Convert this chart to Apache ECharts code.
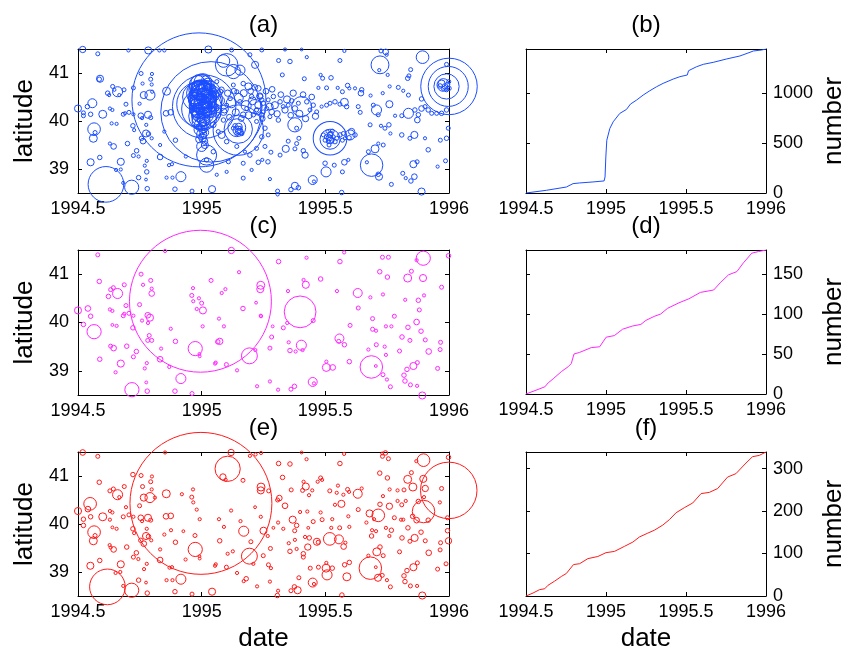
<!DOCTYPE html>
<html>
<head>
<meta charset="utf-8">
<script src="https://cdn.jsdelivr.net/npm/echarts@6/dist/echarts.min.js"></script>
<style>
html, body { margin: 0; padding: 0; background: #fff; }
#chart { width: 851px; height: 654px; }
</style>
</head>
<body>
<div id="chart"></div>
<script>
// tick positions
const dateTicks = [1994.5, 1995, 1995.5, 1996];
const latTicks = [39, 40, 41];
const countTicksB = [0, 500, 1000];
const countTicksD = [0, 50, 100, 150];
const countTicksF = [0, 100, 200, 300];

// events [date, latitude, magnitude] -- all events
const quakesA = [
    [1994.519, 41.49, 4.9], [1994.58, 41.40, 4.5], [1994.704, 41.47, 4.3], [1994.784, 41.47, 5.0],
    [1994.829, 41.47, 4.3], [1994.849, 41.47, 4.3], [1994.586, 40.87, 4.6], [1994.589, 40.88, 5.0],
    [1994.64, 40.72, 4.5], [1994.647, 40.65, 4.3], [1994.62, 40.58, 4.6], [1994.626, 40.54, 4.3],
    [1994.66, 40.61, 5.3], [1994.686, 40.65, 4.5], [1994.667, 40.54, 4.3], [1994.755, 40.99, 4.5],
    [1994.761, 40.78, 4.3], [1994.794, 40.87, 4.5], [1994.798, 40.76, 4.3], [1994.799, 40.98, 4.3],
    [1994.766, 40.54, 5.0], [1994.791, 40.54, 5.3], [1994.80, 40.61, 4.3], [1994.749, 40.36, 4.3],
    [1994.694, 40.35, 4.5], [1994.724, 40.69, 4.5], [1994.50, 40.26, 5.0], [1994.538, 40.30, 4.6],
    [1994.558, 40.37, 5.2], [1994.522, 40.17, 4.5], [1994.522, 40.11, 4.5], [1994.551, 40.14, 4.6],
    [1994.60, 40.14, 5.1], [1994.629, 40.26, 4.3], [1994.639, 40.23, 4.3], [1994.636, 39.95, 4.3],
    [1994.656, 39.94, 4.3], [1994.683, 40.14, 4.5], [1994.69, 40.16, 4.3], [1994.706, 40.18, 4.5],
    [1994.724, 40.14, 4.3], [1994.754, 40.11, 4.8], [1994.783, 40.13, 5.0], [1994.794, 40.07, 4.5],
    [1994.759, 40.06, 4.3], [1994.565, 39.83, 5.5], [1994.569, 39.76, 4.5], [1994.562, 39.64, 5.1],
    [1994.722, 39.90, 4.6], [1994.727, 39.81, 4.3], [1994.776, 39.92, 4.3], [1994.775, 39.74, 5.0],
    [1994.785, 39.73, 4.6], [1994.757, 39.64, 4.6], [1994.763, 39.58, 4.8], [1994.798, 39.64, 4.3],
    [1994.70, 39.53, 4.6], [1994.629, 39.53, 4.3], [1994.644, 39.47, 4.8], [1994.737, 39.38, 4.6],
    [1994.724, 39.28, 4.5], [1994.745, 39.26, 4.3], [1994.588, 39.24, 4.6], [1994.551, 39.14, 5.0],
    [1994.673, 39.15, 5.0], [1994.654, 38.98, 4.3], [1994.673, 38.99, 4.3], [1994.683, 38.71, 4.3],
    [1994.778, 39.17, 4.3], [1994.77, 39.07, 4.3], [1994.778, 38.94, 4.6], [1994.775, 38.78, 4.2],
    [1994.745, 38.82, 4.6], [1994.613, 38.68, 6.4], [1994.717, 38.62, 5.6], [1994.78, 38.59, 4.6],
    [1994.858, 40.62, 5.1], [1994.856, 40.16, 4.8], [1994.875, 40.18, 4.8], [1994.849, 39.78, 4.3],
    [1994.894, 39.60, 4.6], [1994.832, 39.50, 4.3], [1994.832, 39.25, 4.8], [1994.868, 39.08, 4.3],
    [1994.88, 39.10, 4.3], [1994.858, 38.82, 4.3], [1994.882, 38.82, 4.3], [1994.916, 38.84, 5.3],
    [1994.892, 38.58, 4.6], [1994.961, 38.54, 4.5], [1995.042, 38.58, 5.0], [1994.936, 39.26, 4.3],
    // main shock and its aftershock cluster
    [1994.989, 40.44, 7.55], [1995.038, 40.19, 7.3], [1995.01, 40.30, 6.9], [1994.99, 40.35, 6.6],
    [1995.0, 40.25, 6.5], [1995.02, 40.45, 6.3], [1994.98, 40.50, 6.2], [1995.005, 40.10, 6.2],
    [1995.03, 40.60, 6.0], [1994.995, 40.65, 5.9], [1994.985, 40.70, 5.5], [1995.0, 40.72, 5.4],
    [1995.01, 40.68, 5.6], [1994.99, 40.60, 5.7], [1995.005, 40.55, 5.5], [1994.975, 40.45, 5.6],
    [1995.015, 40.40, 5.4], [1994.995, 40.38, 5.8], [1995.0, 40.30, 5.7], [1995.02, 40.28, 5.3],
    [1994.985, 40.20, 5.5], [1995.01, 40.15, 5.4], [1994.995, 40.05, 5.2], [1995.005, 39.95, 5.0],
    [1994.99, 39.88, 4.8], [1995.01, 39.80, 4.7], [1995.0, 39.70, 4.6], [1995.02, 40.50, 5.2],
    [1994.97, 40.60, 5.0], [1995.03, 40.35, 5.0], [1995.04, 40.25, 4.8], [1994.965, 40.30, 4.9],
    [1994.97, 40.15, 4.7], [1995.025, 40.70, 4.9], [1995.045, 40.60, 4.7], [1994.98, 40.78, 4.8],
    [1995.01, 40.82, 4.6], [1995.05, 40.45, 4.6], [1995.06, 40.30, 4.7], [1995.0, 40.45, 5.3],
    [1994.99, 40.50, 5.0], [1995.015, 40.58, 5.1], [1995.005, 40.40, 4.9], [1994.995, 40.22, 5.0],
    [1995.0, 40.12, 4.8], [1995.012, 40.35, 5.5], [1994.988, 40.42, 5.2],
    [1994.985, 40.80, 5.6], [1995.005, 40.80, 5.8], [1995.025, 40.76, 5.5], [1994.995, 40.74, 6.0],
    [1995.015, 40.70, 5.6], [1994.980, 40.66, 5.7], [1995.000, 40.64, 5.9], [1995.030, 40.62, 5.6],
    [1994.990, 40.58, 6.1], [1995.015, 40.55, 5.7], [1994.975, 40.55, 5.4], [1995.035, 40.52, 5.5],
    [1994.998, 40.50, 6.1], [1995.020, 40.47, 5.9], [1994.980, 40.43, 5.7], [1995.004, 40.42, 6.1],
    [1995.030, 40.40, 5.6], [1994.988, 40.37, 5.8], [1995.012, 40.33, 6.0], [1994.975, 40.32, 5.5],
    [1995.025, 40.30, 5.8], [1994.996, 40.28, 6.0], [1995.010, 40.24, 5.7], [1994.982, 40.22, 5.6],
    [1995.028, 40.20, 5.5], [1995.000, 40.18, 5.9], [1994.988, 40.14, 5.6], [1995.015, 40.12, 5.7],
    [1994.996, 40.08, 5.8], [1995.008, 40.03, 5.5], [1994.990, 40.00, 5.6], [1995.012, 39.96, 5.4],
    [1994.996, 39.92, 5.5], [1995.006, 39.86, 5.3], [1994.992, 39.82, 5.4], [1995.010, 39.76, 5.2],
    [1995.000, 39.72, 5.3], [1995.004, 39.65, 5.1], [1994.990, 39.62, 5.0], [1995.012, 39.58, 4.9],
    [1995.040, 40.45, 5.3], [1995.045, 40.30, 5.2], [1995.045, 40.60, 5.1], [1994.970, 40.40, 5.3],
    [1994.968, 40.55, 5.2], [1994.975, 40.70, 5.1], [1995.035, 40.68, 5.3], [1995.040, 40.18, 5.3],
    [1994.970, 40.22, 5.2], [1995.016, 40.86, 5.1],
    [1995.101, 41.17, 6.0], [1995.128, 41.03, 5.6], [1995.088, 41.25, 5.5], [1995.155, 41.06, 5.3],
    [1995.216, 41.17, 5.0], [1995.027, 41.49, 5.0], [1995.121, 41.48, 4.5], [1995.243, 41.48, 4.5],
    [1995.195, 41.38, 4.5], [1995.189, 40.72, 5.0], [1995.229, 40.68, 4.8], [1995.168, 40.78, 4.6],
    [1995.142, 40.61, 4.5], [1995.115, 40.47, 4.6], [1995.101, 40.33, 4.5], [1995.074, 40.61, 4.8],
    [1995.061, 40.82, 4.5], [1995.128, 40.75, 4.5], [1995.155, 40.40, 4.6], [1995.182, 40.26, 4.5],
    [1995.202, 40.51, 4.6], [1995.216, 40.30, 5.6], [1995.243, 40.44, 4.6], [1995.249, 40.19, 4.5],
    [1995.209, 40.13, 4.6], [1995.088, 40.19, 5.0], [1995.061, 40.26, 4.6], [1995.168, 40.13, 4.8],
    [1995.222, 39.99, 4.5], [1995.088, 40.02, 4.6], [1995.047, 39.92, 4.8], [1995.067, 39.78, 4.5],
    [1995.055, 40.55, 5.0], [1995.065, 40.12, 4.8], [1995.072, 40.42, 5.3], [1995.08, 40.65, 4.8],
    [1995.092, 40.25, 5.1], [1995.105, 40.58, 4.9], [1995.112, 40.08, 4.8], [1995.12, 40.38, 5.3],
    [1995.13, 40.62, 4.8], [1995.138, 40.18, 5.0], [1995.15, 40.48, 5.2], [1995.16, 40.05, 4.8],
    [1995.17, 40.58, 5.0], [1995.18, 40.32, 5.3], [1995.19, 40.12, 5.0], [1995.198, 40.62, 4.8],
    [1995.205, 40.42, 5.1], [1995.215, 40.70, 4.8], [1995.225, 40.20, 5.0], [1995.235, 40.52, 4.9],
    [1995.148, 39.81, 6.7], [1995.148, 39.83, 6.2], [1995.142, 39.86, 5.8], [1995.135, 39.90, 4.6],
    [1995.148, 39.79, 4.8], [1995.155, 39.85, 4.5], [1995.142, 39.74, 4.5], [1995.162, 39.74, 4.6],
    [1995.128, 39.85, 4.5], [1995.150, 39.88, 5.0], [1995.145, 39.80, 5.2], [1995.155, 39.78, 4.9],
    [1995.02, 39.29, 5.9], [1995.02, 39.08, 5.6], [1995.0, 39.47, 5.3], [1995.013, 39.50, 5.0],
    [1995.02, 39.19, 4.6], [1995.047, 39.36, 4.6], [1995.101, 39.57, 4.6], [1995.081, 39.71, 5.0],
    [1995.195, 39.29, 4.6], [1995.222, 39.43, 4.5], [1995.168, 39.12, 4.5], [1995.202, 38.98, 4.3],
    [1995.101, 38.94, 4.3], [1995.061, 38.88, 4.3], [1995.108, 39.15, 4.5], [1995.168, 38.81, 4.5],
    [1995.142, 39.47, 4.5], [1995.175, 39.36, 4.3],
    // 1995.25 .. 1996
    [1995.337, 41.49, 4.3], [1995.404, 41.49, 4.2], [1995.311, 41.26, 4.5], [1995.357, 41.24, 4.6],
    [1995.425, 41.33, 4.3], [1995.326, 40.96, 4.5], [1995.415, 40.88, 4.5], [1995.481, 40.96, 4.3],
    [1995.489, 40.89, 4.5], [1995.523, 40.90, 4.6], [1995.559, 41.26, 4.5], [1995.577, 41.46, 4.3],
    [1995.472, 40.69, 4.3], [1995.505, 40.69, 4.5], [1995.55, 40.69, 4.3], [1995.569, 40.61, 4.5],
    [1995.59, 40.74, 4.6], [1995.597, 40.68, 4.3], [1995.62, 40.68, 4.3], [1995.647, 40.65, 4.6],
    [1995.644, 40.58, 4.8], [1995.683, 40.53, 4.3], [1995.732, 40.58, 4.3], [1995.76, 40.72, 4.3],
    [1995.795, 40.70, 4.5], [1995.815, 40.63, 4.3], [1995.845, 41.07, 4.5], [1995.838, 40.94, 4.5],
    [1995.833, 40.89, 4.6], [1995.836, 40.54, 4.5], [1995.889, 40.46, 4.6], [1995.725, 41.46, 4.5],
    [1995.744, 41.44, 4.8], [1995.748, 41.38, 4.3], [1995.721, 41.17, 5.8], [1995.718, 41.06, 4.3],
    [1995.752, 40.96, 4.3], [1995.893, 41.33, 5.5], [1995.99, 41.18, 4.5], [1995.633, 40.30, 4.5],
    [1995.641, 40.18, 4.5], [1995.694, 40.33, 4.5], [1995.707, 40.23, 5.3], [1995.714, 40.13, 4.5],
    [1995.759, 40.35, 5.0], [1995.782, 40.11, 4.3], [1995.809, 40.11, 4.5], [1995.836, 40.16, 5.3],
    [1995.862, 40.23, 4.6], [1995.876, 40.13, 4.6], [1995.889, 40.26, 4.8], [1995.903, 40.30, 4.5],
    [1995.916, 40.23, 4.6], [1995.93, 40.16, 4.5], [1995.95, 40.16, 4.5], [1995.97, 40.16, 4.6],
    [1995.99, 40.23, 4.6], [1995.872, 40.02, 4.8], [1995.681, 39.92, 4.5], [1995.725, 39.90, 4.3],
    [1995.757, 39.92, 4.6], [1995.741, 39.85, 4.5], [1995.763, 39.74, 4.3], [1995.809, 39.71, 4.6],
    [1995.842, 39.64, 4.5], [1995.86, 39.71, 5.0], [1995.903, 39.64, 4.3], [1995.965, 39.60, 4.5],
    [1995.99, 39.64, 4.6], [1995.997, 39.85, 4.5], [1995.62, 39.71, 4.6], [1995.60, 39.71, 5.3],
    [1995.569, 39.60, 4.5], [1995.596, 39.65, 4.6], [1995.606, 39.78, 4.9], [1995.701, 39.42, 5.1],
    [1995.674, 39.36, 4.5], [1995.714, 39.53, 4.3], [1995.734, 39.50, 4.5], [1995.668, 39.14, 4.3],
    [1995.687, 39.08, 6.0], [1995.714, 38.89, 4.6], [1995.717, 38.84, 5.0], [1995.767, 38.68, 4.5],
    [1995.813, 38.91, 4.5], [1995.825, 38.81, 4.3], [1995.846, 38.75, 4.6], [1995.86, 38.84, 4.8],
    [1995.871, 39.15, 4.5], [1995.916, 39.40, 4.6], [1995.889, 38.53, 5.0], [1995.954, 39.05, 4.3],
    [1995.986, 39.17, 4.5], [1995.34, 39.42, 5.0], [1995.377, 39.42, 4.5], [1995.411, 39.38, 4.6],
    [1995.418, 39.29, 4.9], [1995.393, 39.64, 4.5], [1995.384, 39.53, 4.5], [1995.35, 39.58, 4.5],
    [1995.499, 39.12, 4.6], [1995.503, 38.94, 5.3], [1995.536, 39.08, 4.5], [1995.577, 39.14, 4.8],
    [1995.593, 39.19, 4.3], [1995.276, 38.79, 4.3], [1995.307, 38.54, 4.5], [1995.307, 38.47, 4.3],
    [1995.361, 38.57, 4.6], [1995.377, 38.65, 5.0], [1995.391, 38.61, 4.6], [1995.449, 38.77, 5.2],
    [1995.454, 38.74, 4.3], [1995.566, 38.51, 4.6], [1995.569, 38.94, 4.5], [1995.268, 39.15, 4.6],
    [1995.245, 39.19, 4.3], [1995.256, 39.47, 4.5], [1995.243, 39.67, 4.6], [1995.229, 39.14, 4.6],
    [1995.28, 39.35, 4.5], [1995.317, 39.29, 4.5], [1995.856, 39.10, 5.0],
    [1995.229, 40.33, 5.0], [1995.249, 40.37, 4.6], [1995.269, 40.44, 4.5], [1995.29, 40.51, 4.6],
    [1995.296, 40.33, 5.0], [1995.317, 40.40, 4.6], [1995.33, 40.30, 4.5], [1995.337, 40.23, 4.9],
    [1995.35, 40.33, 4.5], [1995.364, 40.42, 4.6], [1995.377, 40.26, 4.8], [1995.391, 40.37, 4.5],
    [1995.404, 40.30, 5.9], [1995.425, 40.40, 4.6], [1995.438, 40.23, 4.5], [1995.451, 40.33, 4.6],
    [1995.465, 40.19, 4.5], [1995.485, 40.30, 4.3], [1995.505, 40.33, 4.5], [1995.519, 40.37, 4.5],
    [1995.539, 40.40, 4.6], [1995.559, 40.35, 4.5], [1995.577, 40.39, 5.1], [1995.586, 40.30, 4.6],
    [1995.243, 40.13, 4.6], [1995.276, 40.09, 4.5], [1995.31, 40.02, 4.6], [1995.377, 39.92, 5.6],
    [1995.384, 39.85, 4.5], [1995.256, 39.85, 4.6], [1995.269, 39.71, 4.5], [1995.236, 40.51, 4.8],
    [1995.263, 40.26, 4.5], [1995.283, 40.19, 4.8], [1995.222, 40.23, 4.5],
    [1995.245, 40.05, 4.8], [1995.26, 40.62, 4.8], [1995.275, 40.30, 5.0], [1995.285, 40.66, 4.8],
    [1995.305, 40.15, 4.9], [1995.32, 40.55, 4.8], [1995.345, 40.45, 5.0], [1995.36, 40.12, 4.8],
    [1995.37, 40.58, 4.9], [1995.395, 40.15, 5.0], [1995.41, 40.55, 4.8], [1995.42, 40.05, 4.9],
    [1995.445, 40.50, 4.8], [1995.46, 40.10, 4.9],
    [1995.519, 39.64, 6.35], [1995.519, 39.62, 5.9], [1995.505, 39.67, 4.6], [1995.519, 39.71, 4.8],
    [1995.526, 39.60, 4.6], [1995.512, 39.57, 4.5], [1995.532, 39.67, 4.5], [1995.523, 39.74, 4.6],
    [1995.499, 39.60, 4.5], [1995.539, 39.57, 4.6], [1995.515, 39.50, 4.5], [1995.528, 39.79, 4.5],
    [1995.509, 39.78, 4.3], [1995.546, 39.64, 4.5], [1995.492, 39.71, 4.5], [1995.559, 39.71, 4.6],
    [1995.573, 39.74, 4.5], [1995.579, 39.64, 4.3], [1995.521, 39.60, 5.0], [1995.516, 39.65, 4.9],
    [1996.0, 40.72, 6.8], [1995.997, 40.72, 6.5], [1995.99, 40.72, 6.1], [1995.977, 40.75, 5.5],
    [1995.97, 40.78, 5.0], [1995.984, 40.72, 4.8], [1995.994, 40.76, 4.6], [1996.0, 40.68, 4.6],
    [1995.99, 40.65, 4.5], [1995.999, 40.82, 4.5], [1995.977, 40.68, 4.5], [1995.964, 40.73, 4.6]
];

// declustered set 1
const quakesC = [
    [1994.58, 41.40, 4.5], [1994.586, 40.85, 4.6], [1994.643, 40.72, 4.5], [1994.632, 40.68, 4.5],
    [1994.66, 40.60, 5.3], [1994.623, 40.54, 4.6], [1994.687, 40.78, 4.5], [1994.755, 41.00, 4.5],
    [1994.763, 40.78, 4.3], [1994.794, 40.87, 4.5], [1994.798, 40.70, 4.3], [1994.798, 40.60, 4.8],
    [1994.694, 40.35, 4.5], [1994.749, 40.37, 4.5], [1994.50, 40.25, 5.0], [1994.54, 40.29, 4.8],
    [1994.551, 40.13, 4.6], [1994.522, 39.96, 4.6], [1994.565, 39.81, 5.6], [1994.629, 40.27, 4.3],
    [1994.639, 40.24, 4.3], [1994.683, 40.14, 4.5], [1994.687, 40.18, 4.3], [1994.706, 40.19, 4.5],
    [1994.724, 40.14, 4.3], [1994.639, 39.95, 4.2], [1994.656, 39.93, 4.3], [1994.722, 39.89, 4.6],
    [1994.759, 40.04, 4.3], [1994.782, 40.15, 4.8], [1994.791, 40.10, 5.0], [1994.783, 39.99, 4.3],
    [1994.788, 39.73, 4.5], [1994.782, 39.63, 4.5], [1994.798, 39.63, 4.5], [1994.697, 39.51, 4.6],
    [1994.632, 39.51, 4.5], [1994.644, 39.47, 4.8], [1994.736, 39.40, 4.6], [1994.724, 39.29, 4.5],
    [1994.588, 39.24, 4.6], [1994.673, 39.15, 5.0], [1994.652, 38.97, 4.3], [1994.778, 39.16, 4.3],
    [1994.770, 39.05, 4.3], [1994.832, 39.24, 4.8], [1994.836, 39.46, 4.3], [1994.875, 39.87, 4.3],
    [1994.894, 39.61, 4.6], [1994.869, 39.08, 4.3], [1994.852, 41.48, 4.3], [1994.718, 38.61, 5.6],
    [1994.776, 38.76, 4.2], [1994.78, 38.58, 4.6], [1994.892, 38.58, 4.6], [1994.961, 38.53, 4.5],
    [1994.916, 38.84, 5.3], [1994.974, 39.46, 5.6], [1994.991, 39.35, 4.2], [1994.992, 39.30, 4.2],
    [1995.005, 40.25, 5.0], [1994.98, 40.28, 4.3], [1995.004, 39.92, 4.3], [1994.965, 40.71, 4.3],
    [1994.96, 40.56, 4.5], [1994.966, 40.44, 4.3], [1994.989, 40.50, 4.3], [1995.0, 40.40, 4.5],
    [1995.038, 40.87, 4.5], [1995.081, 40.61, 4.3], [1995.096, 40.69, 4.3], [1995.07, 40.08, 4.3],
    [1995.09, 39.92, 4.3], [1995.065, 39.60, 4.6], [1995.073, 39.61, 4.9], [1995.057, 39.17, 4.3],
    [1995.054, 39.15, 4.3], [1995.10, 39.13, 4.5], [1995.143, 39.01, 4.3], [1995.167, 40.29, 4.6],
    [1995.151, 41.04, 4.3], [1995.12, 41.49, 4.9], [1995.193, 39.31, 5.7], [1995.22, 40.41, 4.2],
    [1995.24, 40.13, 4.3], [1995.217, 39.43, 4.3], [1995.224, 38.68, 4.3], [1994.995, 40.44, 7.6],
    [1995.239, 40.77, 5.1], [1995.237, 40.69, 5.0], [1995.311, 41.26, 4.6], [1995.424, 41.34, 4.3],
    [1995.576, 41.45, 4.3], [1995.412, 40.88, 4.3], [1995.421, 40.78, 5.0], [1995.481, 40.90, 4.6],
    [1995.349, 40.65, 4.3], [1995.239, 40.14, 4.3], [1995.398, 40.22, 6.3], [1995.451, 40.04, 4.5],
    [1995.346, 39.99, 4.3], [1995.33, 39.89, 4.5], [1995.287, 39.92, 4.2], [1995.283, 39.70, 4.5],
    [1995.276, 39.47, 4.5], [1995.352, 39.59, 4.3], [1995.357, 39.42, 4.6], [1995.38, 39.40, 4.3],
    [1995.403, 39.53, 5.3], [1995.408, 39.43, 4.3], [1995.276, 38.78, 4.3], [1995.309, 38.61, 4.3],
    [1995.361, 38.62, 4.5], [1995.375, 38.68, 4.6], [1995.449, 38.77, 5.2], [1995.454, 38.74, 4.3],
    [1995.504, 39.19, 4.3], [1995.504, 39.07, 5.1], [1995.53, 39.07, 4.8], [1995.547, 40.65, 4.3],
    [1995.559, 41.26, 4.6], [1995.557, 39.67, 5.2], [1995.554, 39.61, 4.5], [1995.577, 39.54, 4.6],
    [1995.60, 39.94, 4.5], [1995.597, 39.19, 4.6], [1995.631, 40.61, 5.2], [1995.633, 40.30, 4.5],
    [1995.682, 40.52, 4.3], [1995.691, 40.08, 4.5], [1995.691, 39.86, 4.5], [1995.705, 39.83, 4.3],
    [1995.674, 39.44, 4.3], [1995.706, 39.54, 4.5], [1995.686, 39.08, 6.0], [1995.704, 39.10, 4.2],
    [1995.733, 40.58, 4.3], [1995.72, 41.05, 4.6], [1995.731, 41.35, 4.5], [1995.755, 41.35, 4.5],
    [1995.751, 40.94, 4.6], [1995.745, 39.92, 4.3], [1995.767, 39.92, 4.3], [1995.779, 40.13, 4.5],
    [1995.74, 39.50, 4.3], [1995.745, 39.33, 4.3], [1995.733, 38.92, 4.5], [1995.749, 38.82, 4.3],
    [1995.763, 38.67, 4.5], [1995.823, 40.47, 4.3], [1995.81, 39.70, 4.6], [1995.834, 39.90, 4.6],
    [1995.842, 39.63, 4.5], [1995.80, 39.41, 4.5], [1995.818, 38.91, 4.6], [1995.83, 39.03, 4.6],
    [1995.856, 39.10, 5.0], [1995.872, 39.17, 4.5], [1995.822, 38.79, 4.6], [1995.844, 38.71, 4.5],
    [1995.871, 38.69, 4.3], [1995.833, 40.92, 5.1], [1995.848, 41.06, 4.5], [1995.869, 41.29, 4.3],
    [1995.896, 41.33, 5.6], [1995.895, 40.92, 5.0], [1995.899, 40.56, 4.3], [1995.876, 40.46, 4.6],
    [1995.88, 40.26, 4.5], [1995.869, 40.01, 4.8], [1995.887, 39.82, 4.6], [1995.904, 39.64, 4.5],
    [1995.918, 39.40, 4.8], [1995.966, 39.59, 4.5], [1995.964, 39.44, 4.5], [1995.954, 39.05, 4.5],
    [1995.97, 40.73, 4.5], [1995.998, 41.38, 4.6], [1995.892, 38.49, 5.0]
];

// declustered set 2
const quakesE = [
    [1994.519, 41.49, 4.8], [1994.58, 41.41, 4.5], [1994.586, 40.87, 4.6], [1994.629, 40.69, 4.5],
    [1994.643, 40.73, 4.5], [1994.66, 40.61, 5.3], [1994.667, 40.56, 4.3], [1994.687, 40.78, 4.5],
    [1994.722, 41.03, 4.6], [1994.755, 41.01, 4.5], [1994.799, 40.99, 4.3], [1994.794, 40.88, 4.5],
    [1994.798, 40.72, 4.3], [1994.761, 40.78, 4.5], [1994.766, 40.55, 5.0], [1994.791, 40.55, 5.3],
    [1994.811, 40.55, 4.3], [1994.749, 40.38, 4.5], [1994.694, 40.35, 4.3], [1994.549, 40.42, 5.5],
    [1994.54, 40.31, 4.8], [1994.50, 40.27, 5.0], [1994.522, 40.10, 4.6], [1994.522, 39.97, 4.6],
    [1994.551, 40.15, 4.6], [1994.60, 40.15, 5.1], [1994.629, 40.27, 4.3], [1994.639, 40.24, 4.3],
    [1994.629, 40.09, 4.3], [1994.639, 39.93, 4.2], [1994.656, 39.90, 4.3], [1994.683, 40.15, 4.5],
    [1994.706, 40.19, 4.5], [1994.724, 40.15, 4.3], [1994.565, 39.83, 5.5], [1994.569, 39.76, 4.5],
    [1994.562, 39.65, 5.1], [1994.754, 40.13, 4.8], [1994.783, 40.13, 5.0], [1994.794, 40.08, 4.5],
    [1994.759, 40.06, 4.3], [1994.722, 39.90, 4.6], [1994.727, 39.81, 4.3], [1994.778, 39.90, 4.3],
    [1994.775, 39.75, 5.0], [1994.785, 39.74, 4.6], [1994.754, 39.66, 4.6], [1994.766, 39.59, 4.8],
    [1994.796, 39.66, 4.3], [1994.697, 39.52, 4.6], [1994.628, 39.56, 4.3], [1994.632, 39.51, 4.3],
    [1994.644, 39.47, 4.8], [1994.736, 39.40, 4.6], [1994.724, 39.31, 4.5], [1994.744, 39.27, 4.3],
    [1994.588, 39.24, 4.6], [1994.55, 39.13, 5.0], [1994.673, 39.16, 5.0], [1994.652, 38.98, 4.3],
    [1994.671, 39.0, 4.3], [1994.683, 38.71, 4.3], [1994.767, 39.06, 4.3], [1994.778, 39.17, 4.3],
    [1994.775, 38.78, 4.2], [1994.745, 38.83, 4.6], [1994.619, 38.69, 6.4], [1994.717, 38.62, 5.6],
    [1994.78, 38.56, 4.6], [1994.852, 41.49, 4.3], [1994.857, 40.63, 5.1], [1994.875, 40.17, 4.8],
    [1994.856, 40.16, 4.8], [1994.876, 39.87, 4.3], [1994.849, 39.78, 4.3], [1994.894, 39.62, 4.6],
    [1994.832, 39.47, 4.3], [1994.832, 39.25, 4.8], [1994.87, 39.09, 4.3], [1994.88, 39.10, 4.3],
    [1994.858, 38.83, 4.3], [1994.882, 38.83, 4.3], [1994.916, 38.85, 5.3], [1994.892, 38.59, 4.6],
    [1994.961, 38.54, 4.5], [1994.92, 40.62, 4.3], [1994.926, 39.85, 4.2], [1994.935, 39.26, 4.3],
    [1994.965, 40.72, 4.3], [1994.96, 40.56, 4.5], [1994.966, 40.45, 4.3], [1994.98, 40.30, 4.3],
    [1994.992, 40.10, 4.3], [1994.973, 39.76, 4.5], [1994.974, 39.47, 5.6], [1994.991, 39.33, 4.2],
    [1994.992, 39.28, 4.2], [1995.042, 38.59, 5.0], [1995.119, 41.49, 4.9], [1995.105, 41.15, 6.1],
    [1995.086, 40.98, 4.9], [1995.097, 40.92, 4.3], [1995.119, 40.28, 4.3], [1995.167, 40.91, 4.5],
    [1995.17, 39.85, 5.3], [1995.157, 40.06, 4.3], [1995.199, 39.63, 4.5], [1995.195, 41.42, 4.3],
    [1995.218, 41.45, 4.3], [1995.24, 41.48, 4.3], [1995.24, 40.77, 5.1], [1995.239, 40.70, 5.0],
    [1995.216, 40.35, 4.2], [1995.239, 40.15, 4.3], [1995.25, 39.86, 5.0], [1995.193, 39.33, 5.7],
    [1995.07, 40.10, 4.3], [1995.09, 39.94, 4.3], [1995.073, 39.65, 4.6], [1995.105, 39.38, 4.3],
    [1995.126, 39.43, 4.3], [1995.057, 39.16, 4.3], [1995.054, 39.13, 4.3], [1995.10, 39.10, 4.5],
    [1995.143, 38.98, 4.3], [1995.18, 38.86, 4.6], [1995.17, 38.81, 4.3], [1995.224, 38.70, 4.3],
    [1995.209, 39.17, 4.3], [1994.997, 40.43, 7.6],
    [1995.311, 41.26, 4.6], [1995.357, 41.25, 4.6], [1995.327, 40.97, 4.6], [1995.404, 41.49, 4.2],
    [1995.424, 41.35, 4.3], [1995.362, 40.71, 4.5], [1995.412, 40.88, 4.3], [1995.421, 40.78, 5.0],
    [1995.408, 40.70, 4.5], [1995.434, 40.60, 4.3], [1995.447, 40.70, 4.3], [1995.469, 40.88, 4.3],
    [1995.481, 40.96, 4.5], [1995.487, 40.92, 4.3], [1995.518, 40.69, 4.5], [1995.576, 41.46, 4.3],
    [1995.559, 41.26, 4.6], [1995.551, 40.80, 4.3], [1995.546, 40.65, 4.3], [1995.59, 40.72, 4.5],
    [1995.596, 40.67, 4.3], [1995.573, 40.61, 4.3], [1995.631, 40.63, 5.2], [1995.647, 40.74, 4.3],
    [1995.565, 40.42, 5.0], [1995.539, 40.40, 4.3], [1995.633, 40.30, 4.5], [1995.314, 40.54, 4.8],
    [1995.307, 40.50, 4.5], [1995.337, 40.38, 4.8], [1995.271, 40.69, 4.5], [1995.309, 40.03, 4.3],
    [1995.368, 40.09, 5.0], [1995.384, 39.97, 4.6], [1995.398, 40.25, 4.3], [1995.427, 40.26, 4.3],
    [1995.451, 40.05, 4.5], [1995.487, 40.09, 4.5], [1995.481, 40.24, 4.3], [1995.431, 39.92, 4.2],
    [1995.376, 39.86, 4.5], [1995.33, 39.90, 4.3], [1995.29, 39.92, 4.2], [1995.267, 39.75, 4.3],
    [1995.418, 39.73, 4.3], [1995.435, 39.71, 4.6], [1995.377, 39.67, 4.3], [1995.352, 39.60, 4.3],
    [1995.466, 39.63, 5.0], [1995.471, 39.62, 4.5], [1995.518, 39.69, 5.5], [1995.555, 39.68, 5.2],
    [1995.574, 39.53, 4.8], [1995.581, 39.61, 4.3], [1995.524, 39.92, 4.3], [1995.558, 39.92, 4.5],
    [1995.597, 39.94, 4.3], [1995.528, 40.10, 4.3], [1995.593, 40.16, 4.3], [1995.357, 39.43, 4.6],
    [1995.384, 39.48, 4.3], [1995.411, 39.38, 4.6], [1995.411, 39.31, 4.5], [1995.429, 39.52, 4.9],
    [1995.278, 39.49, 4.5], [1995.249, 39.34, 4.5], [1995.27, 39.15, 4.5], [1995.28, 39.08, 4.3],
    [1995.439, 39.08, 4.5], [1995.472, 39.10, 4.5], [1995.504, 39.19, 4.3], [1995.503, 39.08, 5.1],
    [1995.528, 39.08, 4.6], [1995.507, 38.94, 5.3], [1995.578, 39.15, 4.6], [1995.597, 39.20, 4.6],
    [1995.587, 38.90, 5.1], [1995.393, 38.88, 4.5], [1995.449, 38.78, 5.2], [1995.454, 38.75, 4.3],
    [1995.276, 38.80, 4.3], [1995.375, 38.69, 4.6], [1995.388, 38.62, 5.0], [1995.361, 38.61, 4.5],
    [1995.309, 38.61, 4.3], [1995.306, 38.51, 4.6], [1995.567, 38.52, 4.6], [1995.682, 39.08, 6.0],
    [1995.704, 39.10, 4.2], [1995.708, 39.42, 5.1], [1995.721, 39.52, 4.6], [1995.734, 39.34, 4.5],
    [1995.674, 39.34, 4.3], [1995.713, 38.88, 5.0], [1995.73, 38.93, 4.5], [1995.749, 38.83, 4.3],
    [1995.763, 38.69, 4.5], [1995.687, 39.75, 4.6], [1995.689, 39.87, 4.3], [1995.705, 39.85, 4.3],
    [1995.666, 40.03, 4.3], [1995.679, 40.22, 5.0], [1995.714, 40.18, 5.5], [1995.697, 40.10, 4.3],
    [1995.721, 40.41, 4.6], [1995.733, 40.58, 4.3], [1995.759, 40.37, 4.9], [1995.72, 41.06, 4.6],
    [1995.751, 40.96, 4.6], [1995.731, 41.41, 4.5], [1995.743, 41.48, 4.6], [1995.755, 41.36, 4.5],
    [1995.73, 41.47, 4.2], [1995.76, 40.72, 4.3], [1995.792, 40.70, 4.3], [1995.818, 40.71, 4.5],
    [1995.809, 40.40, 4.5], [1995.792, 40.48, 4.3], [1995.825, 40.48, 4.3], [1995.779, 40.13, 4.5],
    [1995.806, 40.09, 4.3], [1995.815, 40.09, 4.3], [1995.745, 39.92, 4.3], [1995.767, 39.87, 4.6],
    [1995.759, 39.75, 4.3], [1995.81, 39.71, 4.6], [1995.834, 39.92, 4.6], [1995.842, 39.64, 4.5],
    [1995.861, 39.71, 5.0], [1995.80, 39.42, 4.5], [1995.818, 38.92, 4.6], [1995.83, 39.03, 4.6],
    [1995.856, 39.10, 5.0], [1995.872, 39.19, 4.5], [1995.822, 38.80, 4.6], [1995.844, 38.71, 4.5],
    [1995.871, 38.71, 4.3], [1995.892, 38.51, 5.0], [1995.833, 40.93, 5.1], [1995.848, 41.07, 4.5],
    [1995.854, 40.77, 5.1], [1995.868, 41.31, 4.3], [1995.897, 41.33, 5.5], [1995.904, 40.74, 4.9],
    [1995.896, 40.94, 5.0], [1995.899, 40.56, 4.3], [1995.876, 40.47, 4.6], [1995.897, 40.26, 6.0],
    [1995.869, 40.08, 4.8], [1995.853, 40.16, 4.6], [1995.916, 40.08, 4.6], [1995.887, 39.83, 4.6],
    [1995.904, 39.65, 4.5], [1995.918, 39.40, 4.8], [1995.966, 39.61, 4.5], [1995.964, 39.46, 4.5],
    [1995.954, 39.06, 4.5], [1995.97, 40.74, 4.5], [1995.998, 41.39, 4.6], [1995.963, 40.45, 4.3],
    [1995.994, 40.13, 4.5], [1995.998, 39.65, 4.9], [1995.994, 39.86, 4.6], [1995.988, 39.17, 4.5],
    [1995.999, 40.70, 6.8]
];

// cumulative number of events [date, count]
const cumB = [
    [1994.5, 0], [1994.627, 27], [1994.752, 60], [1994.794, 94], [1994.836, 101], [1994.919, 111],
    [1994.988, 121], [1994.994, 161], [1994.999, 362], [1995.005, 530], [1995.024, 648],
    [1995.045, 715], [1995.086, 799], [1995.128, 839], [1995.153, 893], [1995.191, 933],
    [1995.232, 983], [1995.274, 1027], [1995.316, 1067], [1995.357, 1101], [1995.42, 1144],
    [1995.462, 1168], [1995.508, 1185], [1995.516, 1228], [1995.566, 1268], [1995.608, 1292],
    [1995.67, 1312], [1995.754, 1346], [1995.837, 1376], [1995.90, 1413], [1995.921, 1426],
    [1995.973, 1436], [1996.0, 1446]
];
const cumD = [
    [1994.5, 0], [1994.618, 9], [1994.639, 14], [1994.67, 19], [1994.721, 28], [1994.763, 34],
    [1994.783, 38], [1994.80, 50], [1994.835, 52], [1994.908, 58], [1994.96, 59], [1995.001, 71],
    [1995.052, 73], [1995.104, 81], [1995.166, 85], [1995.218, 87], [1995.249, 92], [1995.301, 97],
    [1995.342, 100], [1995.384, 107], [1995.456, 114], [1995.518, 119], [1995.59, 127],
    [1995.673, 130], [1995.714, 139], [1995.766, 149], [1995.818, 153], [1995.859, 164],
    [1995.911, 176], [1995.952, 178], [1996.0, 180]
];
const cumF = [
    [1994.5, 0], [1994.544, 7], [1994.585, 15], [1994.617, 17], [1994.637, 25], [1994.679, 35],
    [1994.721, 46], [1994.752, 53], [1994.797, 74], [1994.835, 76], [1994.887, 88], [1994.949, 93],
    [1995.0, 102], [1995.053, 105], [1995.116, 117], [1995.168, 127], [1995.209, 139],
    [1995.261, 148], [1995.303, 155], [1995.355, 167], [1995.397, 180], [1995.438, 196],
    [1995.49, 208], [1995.542, 219], [1995.594, 241], [1995.646, 244], [1995.698, 253],
    [1995.76, 280], [1995.812, 288], [1995.875, 313], [1995.916, 328], [1995.958, 331], [1996.0, 339]
];

const FONT = "'Liberation Sans', Arial, Helvetica, sans-serif";
const BLUE = "#1a4dff";
const MAGENTA = "#ff26ff";
const RED = "#ff1a1a";

const chart = echarts.init(document.getElementById("chart"), null, { renderer: "canvas" });

const option = {
    animation: false,
    backgroundColor: "#fff",
    textStyle: { fontFamily: FONT },
    grid: [],
    xAxis: [],
    yAxis: [],
    series: [],
    graphic: []
};

const axisLine = { show: true, onZero: false, lineStyle: { color: "#000", width: 1 } };

function tick(values) {
    return { show: true, inside: true, length: 4, customValues: values, lineStyle: { color: "#000", width: 1 } };
}

function label(values, margin) {
    return {
        show: true, customValues: values, fontSize: 18, color: "#000", margin: margin, fontFamily: FONT,
        formatter: v => String(v)
    };
}

function nameStyle() {
    return { fontSize: 26, color: "#000", fontFamily: FONT };
}

// one panel = grid + bottom/top x axes + two y axes
function addPanel(box, yMin, yMax, yTicks, yLabelSide, showDate, title) {
    const g = option.grid.length;
    option.grid.push(Object.assign({ containLabel: false, outerBoundsMode: "none" }, box));

    const xi = option.xAxis.length;
    option.xAxis.push({
        type: "value", gridIndex: g, position: "bottom", min: 1994.5, max: 1996,
        axisLine: axisLine, axisTick: tick(dateTicks), axisLabel: label(dateTicks, 7),
        splitLine: { show: false },
        name: showDate ? "date" : "", nameLocation: "middle", nameGap: 30, nameTextStyle: nameStyle()
    });
    option.xAxis.push({
        type: "value", gridIndex: g, position: "top", min: 1994.5, max: 1996,
        axisLine: axisLine, axisTick: tick(dateTicks), axisLabel: { show: false },
        splitLine: { show: false }
    });

    const yi = option.yAxis.length;
    const other = yLabelSide === "left" ? "right" : "left";
    option.yAxis.push({
        type: "value", gridIndex: g, position: yLabelSide, min: yMin, max: yMax,
        axisLine: axisLine, axisTick: tick(yTicks), axisLabel: label(yTicks, yLabelSide === "left" ? 9 : 7),
        splitLine: { show: false },
        name: yLabelSide === "left" ? "latitude" : "number",
        nameLocation: "middle", nameGap: yLabelSide === "left" ? 40 : 55, nameTextStyle: nameStyle()
    });
    option.yAxis.push({
        type: "value", gridIndex: g, position: other, min: yMin, max: yMax,
        axisLine: axisLine, axisTick: tick(yTicks), axisLabel: { show: false },
        splitLine: { show: false }
    });

    option.graphic.push({
        type: "text", x: box.left + box.width / 2, y: box.top - 24, silent: true,
        style: { text: title, fontSize: 24, fontFamily: FONT, fill: "#000", align: "center", verticalAlign: "middle" }
    });
    return { x: xi, y: yi };
}

function magSize(v) {
    // circle diameter grows with magnitude
    return 4 * Math.pow(10, (v[2] - 4.5) / 2);
}

function addQuakes(ax, data, color) {
    option.series.push({
        type: "scatter", xAxisIndex: ax.x, yAxisIndex: ax.y, data: data,
        symbol: "circle", symbolSize: magSize, clip: false, silent: true,
        large: false, progressive: 0,
        itemStyle: { color: "rgba(0,0,0,0)", borderColor: color, borderWidth: 1, opacity: 1 },
        emphasis: { disabled: true }
    });
}

function addCount(ax, data, color) {
    option.series.push({
        type: "line", xAxisIndex: ax.x, yAxisIndex: ax.y, data: data,
        showSymbol: false, symbol: "none", silent: true,
        lineStyle: { color: color, width: 1 },
        emphasis: { disabled: true }
    });
}

const pa = addPanel({ left: 78, top: 49, width: 371, height: 144 }, 38.5, 41.5, latTicks, "left", false, "(a)");
const pb = addPanel({ left: 526, top: 49, width: 240, height: 144 }, 0, 1446, countTicksB, "right", false, "(b)");
const pc = addPanel({ left: 78, top: 250, width: 371, height: 145 }, 38.5, 41.5, latTicks, "left", false, "(c)");
const pd = addPanel({ left: 526, top: 250, width: 240, height: 144 }, 0, 180, countTicksD, "right", false, "(d)");
const pe = addPanel({ left: 78, top: 452, width: 371, height: 144 }, 38.5, 41.5, latTicks, "left", true, "(e)");
const pf = addPanel({ left: 526, top: 452, width: 240, height: 144 }, 0, 339, countTicksF, "right", true, "(f)");

addQuakes(pa, quakesA, BLUE);
addCount(pb, cumB, BLUE);
addQuakes(pc, quakesC, MAGENTA);
addCount(pd, cumD, MAGENTA);
addQuakes(pe, quakesE, RED);
addCount(pf, cumF, RED);

chart.setOption(option);
</script>
</body>
</html>
